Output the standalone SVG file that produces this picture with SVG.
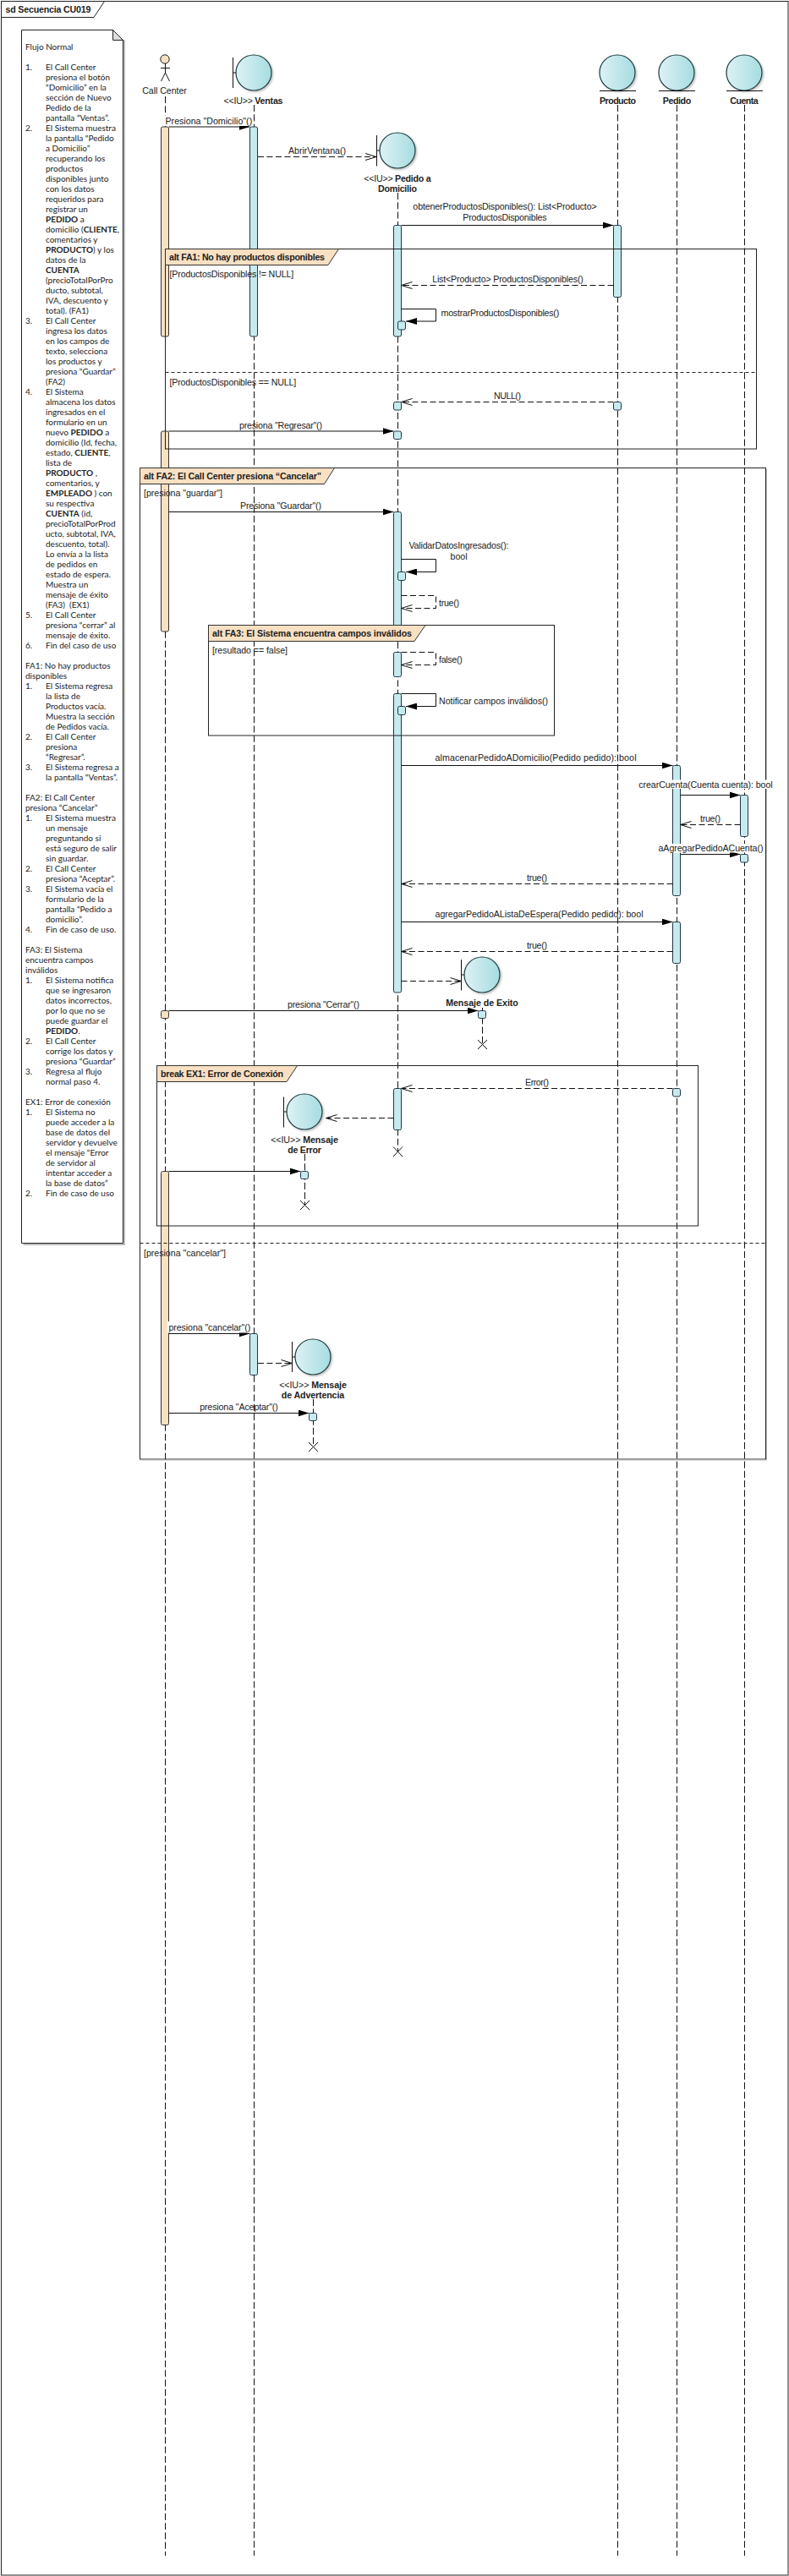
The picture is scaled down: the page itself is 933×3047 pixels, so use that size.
<svg xmlns="http://www.w3.org/2000/svg" width="933" height="3047" viewBox="0 0 933 3047">
<style>
text{font-family:"Liberation Sans",Arial,sans-serif;font-size:10.67px;fill:#222}
.b{font-weight:bold}
.c{text-anchor:middle}
.n{font-family:Lato,"Liberation Sans",sans-serif;font-size:10px;fill:#222}
.frame{fill:none;stroke:#222;stroke-width:1}
.fs{fill:none;stroke:#bbb;stroke-width:1}
.hd{fill:#F8E0C2;stroke:#333;stroke-width:1}
.sep{fill:none;stroke:#222;stroke-width:1;stroke-dasharray:4 3}
.ll{fill:none;stroke:#111;stroke-width:1;stroke-dasharray:8 3.3}
.ao{fill:#F8E0C2;stroke:#333;stroke-width:1}
.ab{fill:#C5EBEE;stroke:#234;stroke-width:1}
.circ{fill:url(#g);stroke:#1d3b3f;stroke-width:1.2;filter:url(#sh)}
.ln{fill:none;stroke:#111;stroke-width:1}
.msg{fill:none;stroke:#111;stroke-width:1;marker-end:url(#fa)}
.ret{fill:none;stroke:#111;stroke-width:1;stroke-dasharray:7 3.5;marker-end:url(#oa)}
.wb{fill:#fff;stroke:none}
</style>
<defs>
<linearGradient id="g" x1="0" y1="0" x2="1" y2="0"><stop offset="0" stop-color="#DDF2F4"/><stop offset="1" stop-color="#A6DCE1"/></linearGradient>
<filter id="sh" x="-20%" y="-20%" width="150%" height="150%"><feDropShadow dx="1.5" dy="1.5" stdDeviation="1" flood-color="#000" flood-opacity=".25"/></filter>
<marker id="fa" markerUnits="userSpaceOnUse" markerWidth="13" markerHeight="8" refX="13" refY="4" orient="auto" viewBox="0 0 13 8"><path d="M0 0L13 4L0 8z" fill="#000"/></marker>
<marker id="oa" markerUnits="userSpaceOnUse" markerWidth="15" markerHeight="12" refX="14" refY="6" orient="auto" viewBox="0 0 15 12"><path d="M1 2L14 6L1 10" fill="none" stroke="#111" stroke-width="1"/></marker>
</defs>
<rect width="933" height="3047" fill="#fff"/>

<g id="diagram-frame">
<rect class="frame" x="1.5" y="1.5" width="930.5" height="3044.5"/>
<path class="frame" d="M1.5 20.5H111L123.5 1.5"/>
<text class="b" x="6.5" y="14.5" textLength="101">sd Secuencia CU019</text>
</g>

<g id="note">
<path d="M147 47V1472H27.5" fill="none" stroke="#bbb" stroke-width="2"/>
<path d="M25.5 35.5H133.5L145.5 47.5V1470.5H25.5Z" fill="#fff" stroke="#222"/>
<path d="M133.5 35.5V47.5H145.5Z" fill="#ddd" stroke="#222"/>
<text class="n" y="59"><tspan x="30">Flujo Normal</tspan>
<tspan x="30" dy="24">1.</tspan><tspan x="54">El Call Center</tspan>
<tspan x="54" dy="12">presiona el botón</tspan>
<tspan x="54" dy="12">“Domicilio” en la</tspan>
<tspan x="54" dy="12">sección de Nuevo</tspan>
<tspan x="54" dy="12">Pedido de la</tspan>
<tspan x="54" dy="12">pantalla “Ventas”.</tspan>
<tspan x="30" dy="12">2.</tspan><tspan x="54">El Sistema muestra</tspan>
<tspan x="54" dy="12">la pantalla “Pedido</tspan>
<tspan x="54" dy="12">a Domicilio”</tspan>
<tspan x="54" dy="12">recuperando los</tspan>
<tspan x="54" dy="12">productos</tspan>
<tspan x="54" dy="12">disponibles junto</tspan>
<tspan x="54" dy="12">con los datos</tspan>
<tspan x="54" dy="12">requeridos para</tspan>
<tspan x="54" dy="12">registrar un</tspan>
<tspan x="54" dy="12" class="b">PEDIDO</tspan><tspan> a</tspan>
<tspan x="54" dy="12">domicilio (</tspan><tspan class="b">CLIENTE</tspan><tspan>,</tspan>
<tspan x="54" dy="12">comentarios y</tspan>
<tspan x="54" dy="12" class="b">PRODUCTO</tspan><tspan>) y los</tspan>
<tspan x="54" dy="12">datos de la</tspan>
<tspan x="54" dy="12" class="b">CUENTA</tspan>
<tspan x="54" dy="12">(precioTotalPorPro</tspan>
<tspan x="54" dy="12">ducto, subtotal,</tspan>
<tspan x="54" dy="12">IVA, descuento y</tspan>
<tspan x="54" dy="12">total). (FA1)</tspan>
<tspan x="30" dy="12">3.</tspan><tspan x="54">El Call Center</tspan>
<tspan x="54" dy="12">ingresa los datos</tspan>
<tspan x="54" dy="12">en los campos de</tspan>
<tspan x="54" dy="12">texto, selecciona</tspan>
<tspan x="54" dy="12">los productos y</tspan>
<tspan x="54" dy="12">presiona “Guardar”</tspan>
<tspan x="54" dy="12">(FA2)</tspan>
<tspan x="30" dy="12">4.</tspan><tspan x="54">El Sistema</tspan>
<tspan x="54" dy="12">almacena los datos</tspan>
<tspan x="54" dy="12">ingresados en el</tspan>
<tspan x="54" dy="12">formulario en un</tspan>
<tspan x="54" dy="12">nuevo </tspan><tspan class="b">PEDIDO</tspan><tspan> a</tspan>
<tspan x="54" dy="12">domicilio (Id, fecha,</tspan>
<tspan x="54" dy="12">estado, </tspan><tspan class="b">CLIENTE</tspan><tspan>,</tspan>
<tspan x="54" dy="12">lista de</tspan>
<tspan x="54" dy="12" class="b">PRODUCTO</tspan><tspan> ,</tspan>
<tspan x="54" dy="12">comentarios, y</tspan>
<tspan x="54" dy="12" class="b">EMPLEADO</tspan><tspan> ) con</tspan>
<tspan x="54" dy="12">su respectiva</tspan>
<tspan x="54" dy="12" class="b">CUENTA</tspan><tspan> (id,</tspan>
<tspan x="54" dy="12">precioTotalPorProd</tspan>
<tspan x="54" dy="12">ucto, subtotal, IVA,</tspan>
<tspan x="54" dy="12">descuento, total).</tspan>
<tspan x="54" dy="12">Lo envía a la lista</tspan>
<tspan x="54" dy="12">de pedidos en</tspan>
<tspan x="54" dy="12">estado de espera.</tspan>
<tspan x="54" dy="12">Muestra un</tspan>
<tspan x="54" dy="12">mensaje de éxito</tspan>
<tspan x="54" dy="12" xml:space="preserve">(FA3)  (EX1)</tspan>
<tspan x="30" dy="12">5.</tspan><tspan x="54">El Call Center</tspan>
<tspan x="54" dy="12">presiona “cerrar” al</tspan>
<tspan x="54" dy="12">mensaje de éxito.</tspan>
<tspan x="30" dy="12">6.</tspan><tspan x="54">Fin del caso de uso</tspan>
<tspan x="30" dy="24">FA1: No hay productos</tspan>
<tspan x="30" dy="12">disponibles</tspan>
<tspan x="30" dy="12">1.</tspan><tspan x="54">El Sistema regresa</tspan>
<tspan x="54" dy="12">la lista de</tspan>
<tspan x="54" dy="12">Productos vacía.</tspan>
<tspan x="54" dy="12">Muestra la sección</tspan>
<tspan x="54" dy="12">de Pedidos vacía.</tspan>
<tspan x="30" dy="12">2.</tspan><tspan x="54">El Call Center</tspan>
<tspan x="54" dy="12">presiona</tspan>
<tspan x="54" dy="12">“Regresar”.</tspan>
<tspan x="30" dy="12">3.</tspan><tspan x="54">El Sistema regresa a</tspan>
<tspan x="54" dy="12">la pantalla “Ventas”.</tspan>
<tspan x="30" dy="24">FA2: El Call Center</tspan>
<tspan x="30" dy="12">presiona “Cancelar”</tspan>
<tspan x="30" dy="12">1.</tspan><tspan x="54">El Sistema muestra</tspan>
<tspan x="54" dy="12">un mensaje</tspan>
<tspan x="54" dy="12">preguntando si</tspan>
<tspan x="54" dy="12">está seguro de salir</tspan>
<tspan x="54" dy="12">sin guardar.</tspan>
<tspan x="30" dy="12">2.</tspan><tspan x="54">El Call Center</tspan>
<tspan x="54" dy="12">presiona “Aceptar”.</tspan>
<tspan x="30" dy="12">3.</tspan><tspan x="54">El Sistema vacía el</tspan>
<tspan x="54" dy="12">formulario de la</tspan>
<tspan x="54" dy="12">pantalla “Pedido a</tspan>
<tspan x="54" dy="12">domicilio”.</tspan>
<tspan x="30" dy="12">4.</tspan><tspan x="54">Fin de caso de uso.</tspan>
<tspan x="30" dy="24">FA3: El Sistema</tspan>
<tspan x="30" dy="12">encuentra campos</tspan>
<tspan x="30" dy="12">inválidos</tspan>
<tspan x="30" dy="12">1.</tspan><tspan x="54">El Sistema notifica</tspan>
<tspan x="54" dy="12">que se ingresaron</tspan>
<tspan x="54" dy="12">datos incorrectos,</tspan>
<tspan x="54" dy="12">por lo que no se</tspan>
<tspan x="54" dy="12">puede guardar el</tspan>
<tspan x="54" dy="12" class="b">PEDIDO</tspan><tspan>.</tspan>
<tspan x="30" dy="12">2.</tspan><tspan x="54">El Call Center</tspan>
<tspan x="54" dy="12">corrige los datos y</tspan>
<tspan x="54" dy="12">presiona “Guardar”</tspan>
<tspan x="30" dy="12">3.</tspan><tspan x="54">Regresa al flujo</tspan>
<tspan x="54" dy="12">normal paso 4.</tspan>
<tspan x="30" dy="24">EX1: Error de conexión</tspan>
<tspan x="30" dy="12">1.</tspan><tspan x="54">El Sistema no</tspan>
<tspan x="54" dy="12">puede acceder a la</tspan>
<tspan x="54" dy="12">base de datos del</tspan>
<tspan x="54" dy="12">servidor y devuelve</tspan>
<tspan x="54" dy="12">el mensaje “Error</tspan>
<tspan x="54" dy="12">de servidor al</tspan>
<tspan x="54" dy="12">intentar acceder a</tspan>
<tspan x="54" dy="12">la base de datos”</tspan>
<tspan x="30" dy="12">2.</tspan><tspan x="54">Fin de caso de uso</tspan></text>
</g>

<g id="call-center">
<path class="ll" d="M195.5 114V3023"/>
<circle cx="195" cy="70" r="5.2" fill="#F8E0C2" stroke="#222"/>
<path class="ln" d="M195.5 75V86M190 80.5H201M190.5 96L195.5 86L200.5 96"/>
<text class="c" x="194.5" y="110.5" textLength="52.7">Call Center</text>
<rect class="ao" x="190.5" y="150" width="9" height="248" rx="2"/>
<rect class="ao" x="190.5" y="510" width="9" height="237" rx="2"/>
<rect class="ao" x="190.5" y="1195.5" width="9" height="9" rx="2"/>
<rect class="ao" x="190.5" y="1385.5" width="9" height="300" rx="2"/>
</g>
<g id="ventas">
<path class="ll" d="M300.5 124V3023"/>
<circle class="circ" cx="300" cy="86" r="21"/>
<path class="ln" d="M275.5 68V104M275.5 86H279"/>
<text class="c" x="299.5" y="122.5" textLength="70">&lt;&lt;IU&gt;&gt; <tspan class="b">Ventas</tspan></text>
<rect class="ab" x="295.5" y="150" width="9" height="248" rx="2"/>
<rect class="ab" x="295.5" y="1577.5" width="9" height="49" rx="2"/>
</g>
<g id="pedido-domicilio">
<path class="ll" d="M470.5 228V1362"/>
<circle class="circ" cx="470" cy="178" r="21"/>
<path class="ln" d="M445.5 160V196.5M445.5 178H449"/>
<text class="c" x="470" y="214.5" textLength="79.3">&lt;&lt;IU&gt;&gt; <tspan class="b">Pedido a</tspan></text>
<text class="c b" x="470" y="226.5" textLength="46">Domicilio</text>
<rect class="ab" x="465.5" y="266.5" width="9" height="131.5" rx="2"/>
<rect class="ab" x="470.5" y="380" width="9" height="10" rx="2"/>
<rect class="ab" x="465.5" y="475.5" width="9" height="9.5" rx="2"/>
<rect class="ab" x="465.5" y="510" width="9" height="9.5" rx="2"/>
<rect class="ab" x="465.5" y="605.5" width="9" height="150" rx="2"/>
<rect class="ab" x="470.5" y="676.5" width="9" height="10" rx="2"/>
<rect class="ab" x="465.5" y="771.5" width="9" height="29" rx="2"/>
<rect class="ab" x="465.5" y="820.5" width="9" height="353.5" rx="2"/>
<rect class="ab" x="470.5" y="835.5" width="9" height="10" rx="2"/>
<rect class="ab" x="465.5" y="1287.5" width="9" height="49" rx="2"/>
<path class="ln" d="M465 1356.5L476 1368M476 1356.5L465 1368"/>
</g>
<g id="producto">
<path class="ll" d="M730.5 124V3023"/>
<circle class="circ" cx="730" cy="86" r="21"/>
<path class="ln" d="M709 107.5H752"/>
<text class="c b" x="730.5" y="122.5" textLength="43">Producto</text>
<rect class="ab" x="725.5" y="266.5" width="9" height="85" rx="2"/>
<rect class="ab" x="725.5" y="475.5" width="9" height="9.5" rx="2"/>
</g>
<g id="pedido">
<path class="ll" d="M800.5 124V3023"/>
<circle class="circ" cx="800" cy="86" r="21"/>
<path class="ln" d="M779 107.5H822"/>
<text class="c b" x="800.5" y="122.5" textLength="33.3">Pedido</text>
<rect class="ab" x="795.5" y="905.5" width="9" height="154" rx="2"/>
<rect class="ab" x="795.5" y="1090.5" width="9" height="49" rx="2"/>
<rect class="ab" x="795.5" y="1287.5" width="9" height="9.5" rx="2"/>
</g>
<g id="cuenta">
<path class="ll" d="M880.5 124V3023"/>
<circle class="circ" cx="880" cy="86" r="21"/>
<path class="ln" d="M859 107.5H902"/>
<text class="c b" x="880" y="122.5" textLength="33.3">Cuenta</text>
<rect class="ab" x="875.5" y="940.5" width="9" height="49" rx="2"/>
<rect class="ab" x="875.5" y="1010.5" width="9" height="9.5" rx="2"/>
</g>
<g id="mensaje-exito">
<path class="ll" d="M570.5 1192V1235"/>
<circle class="circ" cx="570" cy="1153" r="21"/>
<path class="ln" d="M545.5 1135V1171.5M545.5 1153H549"/>
<text class="c b" x="570" y="1189.5" textLength="85.7">Mensaje de Exito</text>
<rect class="ab" x="565.5" y="1195.5" width="9" height="9" rx="2"/>
<path class="ln" d="M565 1230L576 1241M576 1230L565 1241"/>
</g>
<g id="mensaje-error">
<path class="ll" d="M360.5 1365V1425"/>
<circle class="circ" cx="360" cy="1315" r="21"/>
<path class="ln" d="M335.5 1297.5V1333.5M335.5 1315H339"/>
<text class="c" x="360" y="1351.5" textLength="79.7">&lt;&lt;IU&gt;&gt; <tspan class="b">Mensaje</tspan></text>
<text class="c b" x="360" y="1363.5" textLength="39.7">de Error</text>
<rect class="ab" x="355.5" y="1385.5" width="9" height="9" rx="2"/>
<path class="ln" d="M355 1420L366 1431M366 1420L355 1431"/>
</g>
<g id="mensaje-advertencia">
<path class="ll" d="M370.5 1655V1711"/>
<circle class="circ" cx="370" cy="1605" r="21"/>
<path class="ln" d="M345.5 1587V1623M345.5 1605H349"/>
<text class="c" x="370" y="1641.5" textLength="79.7">&lt;&lt;IU&gt;&gt; <tspan class="b">Mensaje</tspan></text>
<text class="c b" x="370" y="1653.5" textLength="74.3">de Advertencia</text>
<rect class="ab" x="365.5" y="1671.5" width="9" height="9" rx="2"/>
<path class="ln" d="M365 1706L376 1717M376 1706L365 1717"/>
</g>

<g id="fragment-fa1">
<rect class="frame" x="195.5" y="294.5" width="699" height="236.5"/>
<path class="hd" d="M195.5 294.5H400.5L388 313.5H195.5Z"/>
<text class="b" x="200" y="307.5" textLength="184">alt FA1: No hay productos disponibles</text>
<text x="200.5" y="327.5" textLength="146.7">[ProductosDisponibles != NULL]</text>
<path class="sep" d="M195.5 440.5H894.5"/>
<text x="200.5" y="455.5" textLength="149.7">[ProductosDisponibles == NULL]</text>
</g>
<g id="fragment-fa2">
<rect class="frame" x="165.5" y="553.5" width="740" height="1172.5"/>
<path class="fs" d="M906.5 555V1727H167"/>
<path class="hd" d="M165.5 553.5H395.5L383.5 572.5H165.5Z"/>
<text class="b" x="170" y="566.5" textLength="210">alt FA2: El Call Center presiona “Cancelar”</text>
<text x="170" y="586.5" textLength="93">[presiona "guardar"]</text>
<path class="sep" d="M165.5 1470.5H905.5"/>
<text x="170" y="1485.5" textLength="97">[presiona "cancelar"]</text>
</g>
<g id="fragment-fa3">
<rect class="frame" x="246.5" y="739.5" width="409" height="130.5"/>
<path class="hd" d="M246.5 739.5H503L490 758.5H246.5Z"/>
<text class="b" x="251" y="752.5" textLength="236">alt FA3: El Sistema encuentra campos inválidos</text>
<text x="251" y="772.5" textLength="89">[resultado == false]</text>
</g>
<g id="fragment-ex1">
<rect class="frame" x="185.5" y="1260.5" width="640" height="189.5"/>
<path class="hd" d="M185.5 1260.5H351.5L339 1279.5H185.5Z"/>
<text class="b" x="190" y="1273.5" textLength="145">break EX1: Error de Conexión</text>
</g>

<g id="connectors">
<path class="msg" d="M199.5 150H295.5"/>
<rect class="wb" x="195" y="137" width="104" height="12"/>
<text x="195.5" y="146.5" textLength="102.7">Presiona "Domicilio"()</text>
<path class="ret" d="M305 185.5H445"/>
<text class="c" x="375" y="181.5" textLength="68">AbrirVentana()</text>
<path class="msg" d="M474.5 266.5H725.5"/>
<text class="c" x="597" y="247.5" textLength="217.3">obtenerProductosDisponibles(): List&lt;Producto&gt;</text>
<text class="c" x="597" y="260.5" textLength="99.3">ProductosDisponibles</text>
<path class="ret" d="M725.5 337.5H474.5"/>
<text class="c" x="600.5" y="333.5" textLength="178.7">List&lt;Producto&gt; ProductosDisponibles()</text>
<path class="msg" d="M474.5 365.5H515.5V380H480"/>
<text x="521.5" y="373.5" textLength="139.7">mostrarProductosDisponibles()</text>
<path class="ret" d="M725.5 475.5H474.5"/>
<text class="c" x="600" y="471.5" textLength="32">NULL()</text>
<path class="msg" d="M199.5 510H465.5"/>
<text class="c" x="332" y="506.5" textLength="98">presiona "Regresar"()</text>
<path class="msg" d="M199.5 605.5H465.5"/>
<text class="c" x="332" y="601.5" textLength="96">Presiona "Guardar"()</text>
<path class="msg" d="M474.5 661.5H515.5V676.5H480"/>
<text class="c" x="542.5" y="648.5" textLength="118">ValidarDatosIngresados():</text>
<text class="c" x="542.5" y="661.5" textLength="20">bool</text>
<path class="ret" d="M474.5 704.5H515.5V719.5H474.5"/>
<text x="519" y="716.5" textLength="24">true()</text>
<path class="ret" d="M474.5 771.5H515.5V786.5H474.5"/>
<text x="519" y="783.5" textLength="27.7">false()</text>
<path class="msg" d="M474.5 820.5H515.5V835.5H480"/>
<text x="519" y="832.5" textLength="129">Notificar campos inválidos()</text>
<path class="msg" d="M474.5 905.5H795.5"/>
<text x="514.5" y="899.5" textLength="238">almacenarPedidoADomicilio(Pedido pedido): bool</text>
<rect class="wb" x="755" y="922.5" width="159" height="10.5"/>
<text class="c" x="834.5" y="931.5" textLength="158.3">crearCuenta(Cuenta cuenta): bool</text>
<path class="msg" d="M804.5 940.5H875.5"/>
<path class="ret" d="M875.5 975.5H804.5"/>
<text class="c" x="840" y="972" textLength="24">true()</text>
<path class="msg" d="M804.5 1010.5H875.5"/>
<rect class="wb" x="778" y="998" width="125" height="10.5"/>
<text class="c" x="840.5" y="1007" textLength="124">aAgregarPedidoACuenta()</text>
<path class="ret" d="M795.5 1045.5H474.5"/>
<text class="c" x="635" y="1041.5" textLength="24">true()</text>
<path class="msg" d="M474.5 1090.5H795.5"/>
<text x="514.5" y="1084.5" textLength="246">agregarPedidoAListaDeEspera(Pedido pedido): bool</text>
<path class="ret" d="M795.5 1125.5H474.5"/>
<text class="c" x="635" y="1121.5" textLength="24">true()</text>
<path class="ret" d="M474.5 1160.5H545.5"/>
<path class="msg" d="M199.5 1195.5H565.5"/>
<text class="c" x="382.5" y="1191.5" textLength="85">presiona "Cerrar"()</text>
<path class="ret" d="M795.5 1287.5H474.5"/>
<text class="c" x="635" y="1283.5" textLength="28">Error()</text>
<path class="ret" d="M465.5 1322.5H385.5"/>
<path class="msg" d="M199.5 1385.5H355.5"/>
<path class="msg" d="M199.5 1577.5H295.5"/>
<rect class="wb" x="198" y="1563" width="98" height="13.5"/>
<text x="199.5" y="1573.5" textLength="96.7">presiona "cancelar"()</text>
<path class="ret" d="M305 1612.5H345.5"/>
<path class="msg" d="M199.5 1671.5H365.5"/>
<text class="c" x="282.5" y="1668" textLength="92.7">presiona "Aceptar"()</text>
</g>
</svg>
